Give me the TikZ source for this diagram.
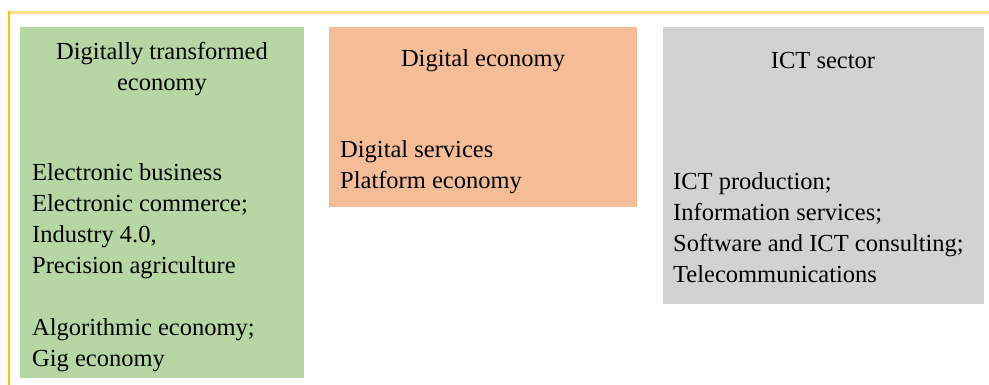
\documentclass[tikz,border=0pt]{standalone}
\usepackage{fontspec}
\setmainfont{Liberation Serif}
\definecolor{framegold}{HTML}{FFC000}
\definecolor{framelight}{HTML}{FFE08A}
\definecolor{greenbox}{HTML}{B6D7A3}
\definecolor{orangebox}{HTML}{F5BD97}
\definecolor{greybox}{HTML}{D2D2D2}
\tikzset{
  area/.style={draw=none, rectangle, inner sep=0pt},
  head/.style={anchor=base, align=center, inner sep=0pt, font=\fontsize{24.5}{31}\selectfont},
  items/.style={anchor=base west, align=left, inner sep=0pt, font=\fontsize{24.5}{31}\selectfont}
}

\begin{document}
\begin{tikzpicture}[x=1pt, y=-1pt]
\useasboundingbox (0,0) rectangle (989,385);
\fill[white] (0,0) rectangle (989,385);
\draw[framelight, line width=2.5pt] (9,12.5) -- (989,12.5);
\draw[framegold, line width=2pt] (9,11.5) -- (9,385);
\node[area, fill=greenbox,  minimum width=284, minimum height=351] (dte) at (162,202.5) {};
\node[area, fill=orangebox, minimum width=308, minimum height=180] (de)  at (483,117) {};
\node[area, fill=greybox,   minimum width=321, minimum height=277] (ict) at (823.5,165.5) {};
% multi-line nodes sit on the baseline of their last line
\node[head] (dtehead) at (162,91) {Digitally transformed\\economy};
\node[head] (dehead)  at (483,67) {Digital economy};
\node[head] (icthead) at (823,69) {ICT sector};
\node[items] (dtelist) at (32,366) {Electronic business\\Electronic commerce;\\Industry 4.0,\\Precision agriculture\\[31pt]Algorithmic economy;\\Gig economy};
\node[items] (delist)  at (340,189) {Digital services\\Platform economy};
\node[items] (ictlist) at (673,282) {ICT production;\\Information services;\\Software and ICT consulting;\\Telecommunications};
\end{tikzpicture}
\end{document}
